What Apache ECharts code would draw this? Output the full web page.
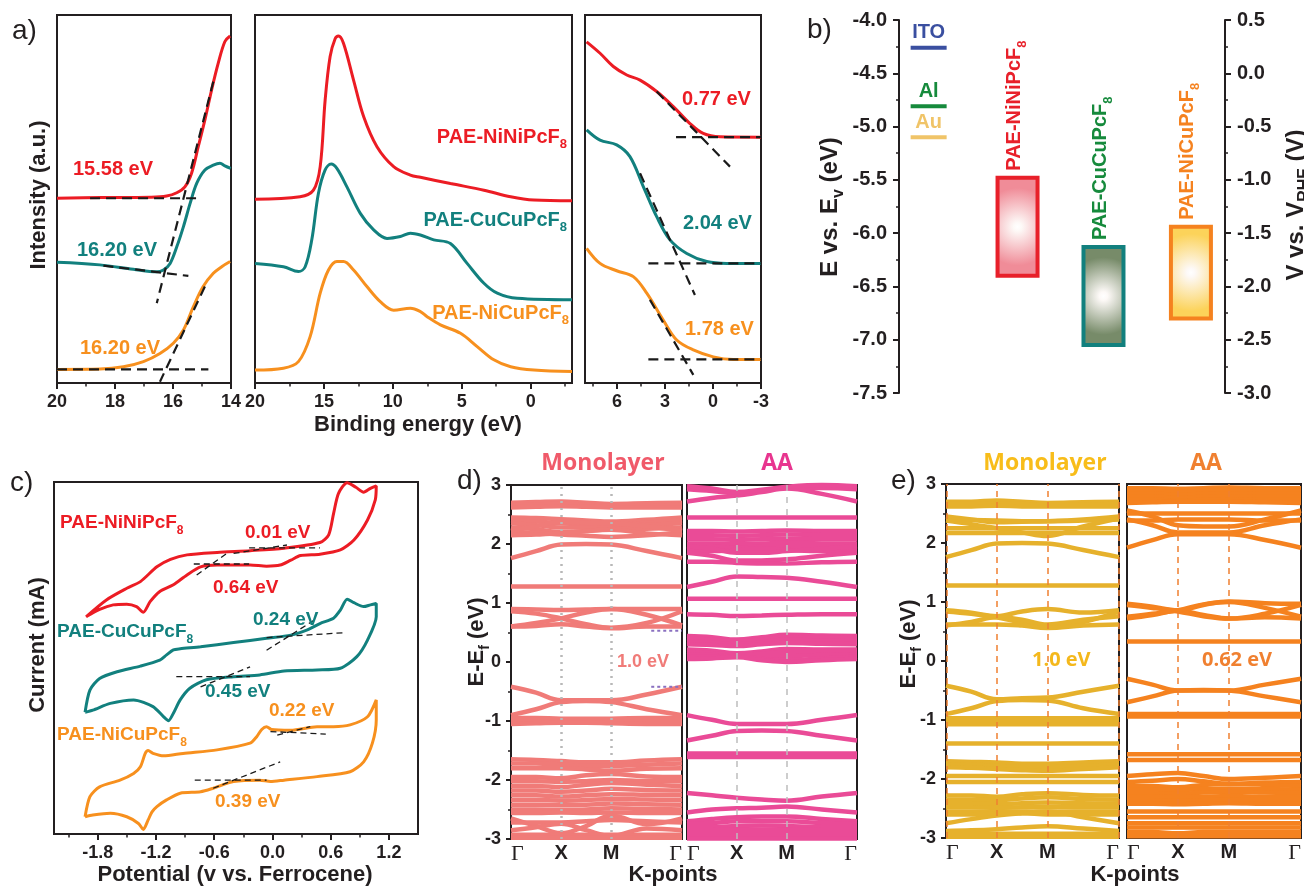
<!DOCTYPE html>
<html><head><meta charset="utf-8">
<script src="https://cdn.jsdelivr.net/npm/echarts@6/dist/echarts.min.js"></script>
<style>html,body{margin:0;padding:0;background:#fff;}#chart{width:1304px;height:889px;}</style>
</head><body><div id="chart"></div>
<script>
const FONT = "'Liberation Sans', Arial, sans-serif";
const OPEN = "'Open Sans', 'Liberation Sans', sans-serif";
const SERIF = "'Liberation Serif', 'DejaVu Serif', serif";
const INK = '#231f20';
const RED = '#ec1c24', TEAL = '#12807e', ORANGE = '#f7901e';

// ---------- Panel a : UPS spectra (binding energy eV, intensity a.u.) ----------
const a1Red = [[20,50.2],[18.5,50.4],[16.8,50.5],[16.22,50.8],[15.87,51.7],[15.59,53.3],[15.36,57.0],[15.13,64.2],[14.9,71.5],[14.67,79.6],[14.44,86.9],[14.21,92.8],[14.03,94.3]];
const a1Teal = [[20,32.8],[18.52,32.1],[17.37,30.9],[16.56,30.2],[16.33,30.7],[16.10,32.5],[15.87,37.0],[15.64,42.5],[15.41,48.8],[15.18,54.3],[14.9,57.9],[14.61,59.2],[14.38,59.7],[14.21,59.0],[14.01,58.3]];
const a1Orange = [[20,3.7],[18.52,3.8],[17.71,4.4],[17.02,5.8],[16.45,8.0],[15.99,10.8],[15.64,14.4],[15.3,20.7],[14.96,26.2],[14.61,29.8],[14.32,31.6],[14.03,33.0]];
const a1Fits = [
  [[18.86,50.2],[15.09,50.2]],
  [[14.61,81.9],[16.56,21.7]],
  [[18.40,31.9],[15.47,29.1]],
  [[20,3.7],[14.78,3.7]],
  [[14.90,26.2],[16.45,0.35]]
];
const a2Red = [[20,49.9],[16.73,50.6],[15.76,52.4],[15.27,58.8],[14.91,76.9],[14.55,88.7],[14.18,93.6],[13.94,94.3],[13.58,92.3],[12.85,82.3],[12.12,72.4],[11.15,64.2],[9.94,58.8],[8.73,56.5],[8.0,55.9],[5.82,54.2],[3.39,52.4],[1.45,50.6],[-0.24,49.7],[-3,49.5]];
const a2Teal = [[20,32.5],[17.94,31.6],[16.85,30.3],[16.36,31.6],[15.88,38.9],[15.40,51.5],[14.91,57.9],[14.47,59.5],[14.06,58.3],[13.33,53.3],[12.36,46.1],[11.39,41.6],[10.42,39.3],[9.45,39.8],[8.73,40.7],[8.0,40.2],[7.03,38.9],[5.82,37.9],[4.61,32.5],[3.39,27.1],[2.42,24.4],[0.97,23.0],[-3,22.6]];
const a2Orange = [[20,3.5],[17.94,4.0],[16.85,5.8],[16.0,12.6],[15.27,24.4],[14.67,30.7],[14.06,33.0],[13.58,33.0],[12.85,30.7],[11.88,26.2],[10.91,22.1],[9.94,19.8],[8.73,20.3],[8.0,19.4],[7.51,18.0],[6.55,15.8],[5.09,13.5],[3.88,9.9],[2.67,6.3],[1.45,4.4],[-0.24,3.5],[-3,3.1]];
const a3Red = [[7.9,92.7],[7.06,89.6],[6.23,86.0],[5.39,83.7],[4.56,82.3],[3.52,79.2],[2.48,75.1],[1.44,70.5],[0.61,67.8],[-0.44,66.9],[-3,66.8]];
const a3Teal = [[7.9,68.8],[7.06,66.0],[6.02,64.7],[5.19,61.5],[4.35,53.3],[3.52,45.2],[2.69,38.9],[1.64,35.2],[0.39,33.0],[-0.86,32.5],[-3,32.5]];
const a3Orange = [[7.9,36.6],[7.06,32.5],[6.02,30.5],[4.98,28.9],[4.14,24.4],[3.11,17.1],[2.27,11.7],[1.23,9.0],[-0.02,7.1],[-1.27,6.4],[-3,6.4]];
const a3Fits = [
  [[2.31,66.8],[-3,66.8]],
  [[3.52,79.2],[-1.06,58.8]],
  [[4.04,32.5],[-3,32.5]],
  [[4.56,57.0],[1.13,23.9]],
  [[4.04,6.4],[-3,6.4]],
  [[3.94,22.6],[1.23,2.2]]
];
const a1Ticks = [14,16,18,20], a1Minor = [15,17,19];
const a2Ticks = [0,5,10,15,20], a2Minor = [-2.5,2.5,7.5,12.5,17.5];
const a3Ticks = [-3,0,3,6], a3Minor = [-1.5,1.5,4.5,7.5];

// ---------- Panel b : energy levels ----------
const metalNames = ['ITO','Al','Au'];
const metalE = [-4.26,-4.81,-5.10];
const boxNames = ['PAE-NiNiPcF','PAE-CuCuPcF','PAE-NiCuPcF'];
const boxTop = [-5.48,-6.13,-5.94];
const boxBottom = [-6.40,-7.05,-6.80];

// ---------- Panel c : cyclic voltammetry (V vs Fc, current a.u.) ----------
const cvNiNi = [[-1.92,61.7],[-1.71,66.5],[-1.50,69.8],[-1.36,71.7],[-1.19,75.9],[-1.05,78.0],[-0.88,79.3],[-0.57,80.0],[-0.23,80.5],[0.12,81.2],[0.49,82.8],[0.58,85.0],[0.63,91.0],[0.68,96.7],[0.77,99.8],[0.86,98.5],[0.94,97.1],[1.01,98.2],[1.07,98.9],[1.06,94.9],[0.98,89.2],[0.84,83.5],[0.70,80.7],[0.49,79.5],[0.29,79.1],[0.19,77.8],[0.08,76.4],[-0.06,76.1],[-0.23,76.4],[-0.57,76.4],[-0.74,75.9],[-0.88,73.6],[-1.02,70.8],[-1.16,68.9],[-1.26,66.0],[-1.33,63.0],[-1.40,64.6],[-1.50,65.3],[-1.64,65.1],[-1.78,63.8],[-1.92,61.7]];
const cvCuCu = [[-1.93,34.6],[-1.88,40.9],[-1.78,44.2],[-1.60,46.1],[-1.36,47.7],[-1.16,49.4],[-1.09,50.9],[-1.02,52.3],[-0.95,52.6],[-0.74,53.2],[-0.40,54.4],[-0.06,55.6],[0.19,56.5],[0.36,58.0],[0.49,59.8],[0.63,61.3],[0.70,63.6],[0.77,66.7],[0.84,65.7],[0.94,64.6],[1.01,65.1],[1.07,65.5],[1.07,61.7],[0.98,55.1],[0.87,50.4],[0.70,47.1],[0.46,46.6],[0.12,46.3],[-0.13,45.2],[-0.40,44.7],[-0.68,43.8],[-0.85,41.4],[-0.95,38.1],[-1.02,34.3],[-1.07,32.2],[-1.12,33.3],[-1.23,36.2],[-1.43,38.1],[-1.67,37.1],[-1.85,35.2],[-1.93,34.6]];
const cvNiCu = [[-1.93,4.9],[-1.88,10.6],[-1.78,13.4],[-1.57,15.3],[-1.43,17.2],[-1.36,19.1],[-1.31,22.9],[-1.28,23.7],[-1.23,22.9],[-1.12,22.2],[-0.92,22.9],[-0.57,23.9],[-0.23,25.8],[-0.16,27.7],[-0.11,29.7],[-0.06,30.5],[-0.01,29.7],[0.19,29.5],[0.46,30.5],[0.63,30.5],[0.80,31.0],[0.98,33.3],[1.07,38.1],[1.07,32.4],[1.03,25.8],[0.94,20.5],[0.80,17.7],[0.46,16.3],[0.12,15.3],[-0.02,14.9],[-0.13,15.3],[-0.40,14.9],[-0.61,13.0],[-0.74,12.0],[-0.95,11.6],[-1.09,9.7],[-1.19,7.8],[-1.24,6.3],[-1.28,4.0],[-1.33,1.3],[-1.38,3.0],[-1.50,4.9],[-1.67,5.9],[-1.85,5.4],[-1.93,4.9]];
const cvFits = [
  [[-0.24,81.3],[0.49,81.3]], [[-0.40,79.7],[0.15,82.1]], [[-0.81,76.7],[-0.24,76.7]], [[-0.78,73.6],[-0.47,79.7]],
  [[-0.06,55.8],[0.75,57.2]], [[-0.06,52.2],[0.44,60.9]], [[-0.99,44.7],[-0.23,44.7]], [[-0.74,41.8],[-0.23,47.5]],
  [[-0.02,29.1],[0.55,28.4]], [[0.05,28.1],[0.39,30.5]], [[-0.80,15.3],[-0.06,15.3]], [[-0.61,13.0],[0.08,20.5]]
];
const cTicks = [-1.8,-1.2,-0.6,0,0.6,1.2], cMinor = [-2.1,-1.5,-0.9,-0.3,0.3,0.9];

// ---------- Panels d, e : band structures (E - Ef, eV) ----------
const kPath = [0, 0.25, 0.5, 0.75, 1.0, 1.3536, 1.7071];
const kTickPos = [0, 0.5, 1.0, 1.7071];
const kLabels = ['Γ','X','M','Γ'];
const dMonoBands = [
[2.70,2.71,2.72,2.70,2.68,2.69,2.70],[2.66,2.67,2.68,2.66,2.64,2.65,2.66],[2.62,2.63,2.64,2.63,2.62,2.62,2.62],
[2.45,2.44,2.42,2.40,2.38,2.41,2.45],[2.40,2.38,2.35,2.33,2.32,2.36,2.40],[2.35,2.32,2.28,2.28,2.30,2.32,2.35],
[2.28,2.25,2.20,2.22,2.25,2.26,2.28],[2.20,2.19,2.16,2.14,2.12,2.15,2.20],[2.15,2.16,2.18,2.22,2.24,2.18,2.15],
[2.22,2.30,2.38,2.36,2.35,2.30,2.22],[1.76,1.88,1.99,2.00,1.99,1.88,1.76],[1.28,1.28,1.28,1.28,1.28,1.28,1.28],
[0.90,0.89,0.88,0.89,0.90,0.90,0.90],[0.86,0.82,0.74,0.64,0.58,0.66,0.86],[0.60,0.66,0.74,0.84,0.90,0.80,0.62],
[0.60,0.61,0.64,0.60,0.57,0.60,0.60],[-0.42,-0.52,-0.65,-0.65,-0.65,-0.55,-0.42],[-0.90,-0.80,-0.68,-0.66,-0.68,-0.80,-0.90],
[-0.95,-0.95,-0.96,-0.96,-0.96,-0.95,-0.95],[-1.00,-1.00,-1.00,-1.00,-1.00,-1.00,-1.00],[-1.05,-1.04,-1.03,-1.03,-1.04,-1.05,-1.05],
[-1.65,-1.66,-1.68,-1.70,-1.70,-1.67,-1.65],[-1.72,-1.72,-1.74,-1.76,-1.76,-1.74,-1.72],[-1.80,-1.80,-1.80,-1.82,-1.84,-1.81,-1.80],
[-1.95,-1.95,-1.97,-1.92,-1.90,-1.94,-1.95],[-2.02,-2.02,-2.03,-2.02,-2.00,-2.02,-2.02],[-2.10,-2.10,-2.12,-2.08,-2.05,-2.08,-2.10],
[-2.18,-2.18,-2.20,-2.18,-2.15,-2.17,-2.18],[-2.26,-2.26,-2.28,-2.26,-2.24,-2.25,-2.26],[-2.34,-2.34,-2.35,-2.34,-2.32,-2.33,-2.34],
[-2.42,-2.42,-2.43,-2.42,-2.40,-2.41,-2.42],[-2.50,-2.50,-2.51,-2.50,-2.48,-2.49,-2.50],[-2.56,-2.56,-2.55,-2.56,-2.55,-2.56,-2.56],
[-2.65,-2.78,-2.90,-2.78,-2.60,-2.75,-2.65],[-2.72,-2.72,-2.72,-2.70,-2.68,-2.70,-2.72],[-2.85,-2.80,-2.74,-2.85,-2.95,-2.82,-2.85],
[-2.93,-2.93,-2.93,-2.93,-2.93,-2.93,-2.93],[-2.98,-2.98,-2.98,-2.98,-2.98,-2.98,-2.98]
];
const dAABands = [
[2.93,2.90,2.86,2.90,2.95,2.95,2.93],[2.72,2.78,2.82,2.88,2.94,2.85,2.72],[2.98,2.94,2.88,2.92,2.97,3.00,2.98],
[2.45,2.45,2.45,2.45,2.45,2.45,2.45],[2.22,2.22,2.21,2.22,2.23,2.22,2.22],[2.15,2.15,2.14,2.15,2.16,2.15,2.15],
[2.08,2.08,2.07,2.08,2.09,2.08,2.08],[2.01,2.01,2.00,2.01,2.02,2.01,2.01],[1.95,1.95,1.94,1.95,1.95,1.95,1.95],
[1.88,1.88,1.90,1.92,1.90,1.88,1.88],[1.96,1.92,1.85,1.85,1.88,1.92,1.96],[1.85,1.80,1.72,1.72,1.74,1.80,1.85],
[1.70,1.70,1.68,1.67,1.67,1.69,1.70],[1.27,1.36,1.45,1.44,1.43,1.36,1.27],[1.07,1.07,1.07,1.07,1.07,1.07,1.07],
[0.81,0.80,0.78,0.79,0.80,0.81,0.81],[0.44,0.42,0.38,0.42,0.46,0.45,0.44],[0.40,0.38,0.35,0.38,0.42,0.41,0.40],
[0.35,0.33,0.30,0.33,0.38,0.36,0.35],[0.30,0.29,0.27,0.30,0.32,0.31,0.30],[0.21,0.19,0.15,0.18,0.22,0.21,0.21],
[0.17,0.15,0.12,0.14,0.17,0.17,0.17],[0.13,0.12,0.10,0.10,0.10,0.12,0.13],[0.09,0.09,0.10,0.05,0.03,0.06,0.09],
[0.05,0.06,0.08,0.03,0.00,0.03,0.05],[-0.90,-0.98,-1.05,-1.05,-1.05,-0.98,-0.90],[-1.33,-1.25,-1.17,-1.16,-1.17,-1.25,-1.33],
[-1.55,-1.55,-1.55,-1.55,-1.55,-1.55,-1.55],[-1.58,-1.58,-1.58,-1.58,-1.58,-1.58,-1.58],[-1.61,-1.61,-1.61,-1.61,-1.61,-1.61,-1.61],
[-2.22,-2.26,-2.30,-2.33,-2.35,-2.28,-2.22],[-2.55,-2.50,-2.48,-2.47,-2.45,-2.50,-2.55],[-2.70,-2.66,-2.63,-2.62,-2.62,-2.66,-2.70],
[-2.75,-2.73,-2.70,-2.70,-2.70,-2.73,-2.75],[-2.80,-2.80,-2.78,-2.77,-2.78,-2.80,-2.80],[-2.85,-2.85,-2.84,-2.84,-2.84,-2.85,-2.85],
[-2.90,-2.90,-2.90,-2.90,-2.90,-2.90,-2.90],[-2.95,-2.95,-2.95,-2.95,-2.95,-2.95,-2.95],[-2.99,-2.99,-2.99,-2.99,-2.99,-2.99,-2.99]
];
const eMonoBands = [
[2.70,2.70,2.72,2.70,2.68,2.69,2.70],[2.66,2.66,2.67,2.66,2.64,2.65,2.66],[2.62,2.62,2.63,2.62,2.62,2.62,2.62],
[2.45,2.40,2.35,2.36,2.37,2.40,2.45],[2.40,2.39,2.38,2.37,2.37,2.38,2.40],[2.25,2.25,2.25,2.25,2.25,2.25,2.25],
[2.17,2.17,2.17,2.17,2.17,2.17,2.17],[2.38,2.32,2.25,2.18,2.12,2.28,2.42],[1.76,1.88,1.99,2.00,1.99,1.88,1.76],
[1.28,1.28,1.28,1.28,1.28,1.28,1.28],[0.86,0.82,0.76,0.84,0.88,0.82,0.86],[0.84,0.80,0.74,0.65,0.58,0.66,0.84],
[0.60,0.66,0.74,0.70,0.62,0.70,0.76],[0.62,0.62,0.62,0.60,0.56,0.60,0.62],[-0.42,-0.52,-0.65,-0.63,-0.62,-0.52,-0.42],
[-0.90,-0.80,-0.68,-0.66,-0.67,-0.80,-0.90],[-0.97,-0.97,-0.97,-0.97,-0.97,-0.97,-0.97],[-1.02,-1.02,-1.02,-1.02,-1.02,-1.02,-1.02],
[-1.07,-1.07,-1.07,-1.07,-1.07,-1.07,-1.07],[-1.40,-1.40,-1.40,-1.40,-1.40,-1.40,-1.40],[-1.70,-1.71,-1.72,-1.74,-1.74,-1.72,-1.70],
[-1.75,-1.76,-1.78,-1.80,-1.80,-1.78,-1.75],[-1.80,-1.81,-1.83,-1.85,-1.86,-1.83,-1.80],[-1.95,-1.95,-1.95,-1.95,-1.95,-1.95,-1.95],
[-2.05,-2.05,-2.05,-2.05,-2.05,-2.05,-2.05],[-2.28,-2.28,-2.30,-2.26,-2.24,-2.27,-2.28],[-2.35,-2.35,-2.36,-2.33,-2.31,-2.34,-2.35],
[-2.42,-2.42,-2.43,-2.41,-2.40,-2.41,-2.42],[-2.48,-2.48,-2.49,-2.48,-2.47,-2.48,-2.48],[-2.55,-2.55,-2.55,-2.55,-2.55,-2.55,-2.55],
[-2.75,-2.68,-2.62,-2.58,-2.55,-2.65,-2.75],[-2.60,-2.60,-2.58,-2.58,-2.60,-2.60,-2.60],[-2.88,-2.87,-2.85,-2.82,-2.80,-2.84,-2.88],
[-2.93,-2.93,-2.93,-2.93,-2.93,-2.93,-2.93],[-2.98,-2.98,-2.98,-2.98,-2.98,-2.98,-2.98]
];
const eAABands = [
[2.93,2.93,2.92,2.93,2.94,2.93,2.93],[2.88,2.88,2.87,2.88,2.89,2.88,2.88],[2.83,2.83,2.82,2.83,2.84,2.83,2.83],
[2.78,2.78,2.77,2.78,2.79,2.78,2.78],[2.73,2.73,2.72,2.73,2.74,2.73,2.73],[2.68,2.69,2.70,2.70,2.70,2.69,2.68],
[2.55,2.45,2.30,2.28,2.28,2.40,2.55],[2.50,2.50,2.50,2.50,2.50,2.50,2.50],[2.38,2.38,2.40,2.40,2.40,2.38,2.38],
[2.40,2.30,2.18,2.18,2.18,2.30,2.40],[1.92,2.05,2.15,2.15,2.15,2.05,1.92],[0.97,0.92,0.86,0.95,1.01,0.98,0.97],
[0.72,0.78,0.85,0.78,0.72,0.74,0.72],[0.95,0.90,0.84,0.76,0.72,0.80,0.95],[0.75,0.80,0.86,0.96,1.00,0.90,0.75],
[0.33,0.33,0.33,0.33,0.33,0.33,0.33],[-0.30,-0.40,-0.50,-0.50,-0.50,-0.40,-0.30],[-0.70,-0.60,-0.50,-0.49,-0.50,-0.60,-0.70],
[-0.90,-0.90,-0.90,-0.90,-0.90,-0.90,-0.90],[-0.94,-0.94,-0.94,-0.94,-0.94,-0.94,-0.94],[-1.58,-1.58,-1.58,-1.58,-1.58,-1.58,-1.58],
[-1.68,-1.68,-1.68,-1.68,-1.68,-1.68,-1.68],[-1.95,-1.92,-1.90,-1.95,-2.00,-1.98,-1.95],[-2.05,-2.03,-2.00,-2.04,-2.08,-2.06,-2.05],
[-2.12,-2.12,-2.14,-2.10,-2.08,-2.10,-2.12],[-2.18,-2.18,-2.19,-2.17,-2.16,-2.17,-2.18],[-2.24,-2.24,-2.25,-2.23,-2.22,-2.23,-2.24],
[-2.30,-2.30,-2.31,-2.30,-2.29,-2.30,-2.30],[-2.36,-2.36,-2.37,-2.36,-2.35,-2.36,-2.36],[-2.42,-2.42,-2.43,-2.42,-2.41,-2.42,-2.42],
[-2.55,-2.55,-2.55,-2.55,-2.55,-2.55,-2.55],[-2.65,-2.65,-2.65,-2.65,-2.65,-2.65,-2.65],[-2.75,-2.75,-2.75,-2.75,-2.75,-2.75,-2.75],
[-2.82,-2.82,-2.82,-2.82,-2.82,-2.82,-2.82],[-2.90,-2.90,-2.92,-2.90,-2.90,-2.90,-2.90],[-2.97,-2.97,-2.97,-2.97,-2.97,-2.97,-2.97]
];
const dGapLevels = [0.53, -0.42];
const dGapSpan = [1.40, 1.7071];

// ================= layout / styling =================
const K_END = 1.7071;
const bSlot = [1.0, 4.0, 6.9, 9.85];
const metalColors = ['#3a4fa0','#168a3c','#f0c468'];
const boxFill = ['#f08c98','#778b69','#fcd35a'];
const boxStroke = ['#e8202a','#12807e','#f5821f'];
const boxText = ['#e8202a','#168a3c','#f5821f'];

const grid = [
  {left:57,top:15,width:174,height:368},
  {left:255,top:15,width:317,height:368},
  {left:585,top:15,width:176,height:368},
  {left:899,top:20,width:326,height:373},
  {left:54,top:482,width:364,height:352},
  {left:511,top:485,width:171,height:354},
  {left:687,top:485,width:170,height:354},
  {left:946,top:484,width:173,height:354},
  {left:1127,top:484,width:179,height:354}
].map(g => Object.assign({show:true, borderColor:INK, borderWidth:2, containLabel:false}, g));
grid[3].show = false;

const fmtInt = v => String(Math.round(v));
const fmt1 = v => (Math.abs(v) < 1e-9 ? 0 : v).toFixed(1);
function majorX(gi, min, max, inv, ticks, fmt) {
  return {type:'value', gridIndex:gi, min, max, inverse:inv, position:'bottom',
    axisLine:{show:false}, splitLine:{show:false},
    axisTick:{show:true, customValues:ticks, length:6, lineStyle:{color:INK, width:2}},
    axisLabel:{show:true, customValues:ticks, formatter:fmt, color:INK, fontSize:18, fontWeight:'bold', fontFamily:FONT, margin:10}};
}
function minorX(gi, min, max, inv, ticks) {
  return {type:'value', gridIndex:gi, min, max, inverse:inv, position:'bottom',
    axisLine:{show:false}, splitLine:{show:false}, axisLabel:{show:false},
    axisTick:{show:true, customValues:ticks, length:3.5, lineStyle:{color:INK, width:1.5}}};
}
function bandX(gi) {
  return {type:'value', gridIndex:gi, min:0, max:K_END, axisLine:{show:false}, splitLine:{show:false}, axisTick:{show:false},
    axisLabel:{show:true, customValues:kTickPos, alignMinLabel:'left', alignMaxLabel:'right', margin:4,
      formatter: v => { const i = kTickPos.findIndex(t => Math.abs(t - v) < 1e-3); const s = kLabels[i < 0 ? 0 : i]; return s === 'Γ' ? '{g|Γ}' : '{k|' + s + '}'; },
      rich:{g:{fontFamily:SERIF, fontSize:22, color:INK}, k:{fontFamily:FONT, fontSize:20, fontWeight:'bold', color:INK}}}};
}
function hiddenY(gi, min, max) {
  return {type:'value', gridIndex:gi, min, max, show:false, splitLine:{show:false}};
}
function bandY(gi, show) {
  return {type:'value', gridIndex:gi, min:-3, max:3, interval:1, axisLine:{show:false}, splitLine:{show:false},
    axisTick:{show:show, length:5, lineStyle:{color:INK, width:2}},
    minorTick:{show:show, splitNumber:2, length:3, lineStyle:{color:INK, width:1.5}},
    axisLabel:{show:show, color:INK, fontSize:18, fontWeight:'bold', fontFamily:FONT, margin:10}};
}
function bY(pos, min, max) {
  return {type:'value', gridIndex:3, position:pos, min, max, interval:0.5,
    axisLine:{show:true, lineStyle:{color:INK, width:2}}, splitLine:{show:false},
    axisTick:{show:true, length:6, lineStyle:{color:INK, width:2}},
    minorTick:{show:true, splitNumber:2, length:3, lineStyle:{color:INK, width:1.5}},
    axisLabel:{color:INK, fontSize:20, fontWeight:'bold', fontFamily:FONT, margin:12, formatter:fmt1}};
}

const xAxis = [
  majorX(0,14,20,true,a1Ticks,fmtInt), minorX(0,14,20,true,a1Minor),
  majorX(1,-3,20,true,a2Ticks,fmtInt), minorX(1,-3,20,true,a2Minor),
  majorX(2,-3,8,true,a3Ticks,fmtInt), minorX(2,-3,8,true,a3Minor),
  {type:'value', gridIndex:3, min:0, max:11, show:false},
  majorX(4,-2.25,1.5,false,cTicks,fmt1), minorX(4,-2.25,1.5,false,cMinor),
  bandX(5), bandX(6), bandX(7), bandX(8)
];
const yAxis = [
  hiddenY(0,0,100), hiddenY(1,0,100), hiddenY(2,0,100),
  bY('left',-7.5,-4.0), bY('right',-3.0,0.5),
  hiddenY(4,0,100),
  bandY(5,true), bandY(6,false), bandY(7,true), bandY(8,false)
];

function line(xi, yi, data, color, width, dash, smooth) {
  return {type:'line', xAxisIndex:xi, yAxisIndex:yi, data, symbol:'none', showSymbol:false,
    smooth: smooth || 0, clip:false, silent:true, animation:false, z: dash ? 4 : 3,
    lineStyle:{color, width, type: dash || 'solid'}};
}
const series = [];
const FITDASH = [10,6];
[[a1Red,RED],[a1Teal,TEAL],[a1Orange,ORANGE]].forEach(([d,c]) => series.push(line(0,0,d,c,3,null,0.35)));
a1Fits.forEach(d => series.push(line(0,0,d,'#1a1a1a',2.2,FITDASH)));
[[a2Red,RED],[a2Teal,TEAL],[a2Orange,ORANGE]].forEach(([d,c]) => series.push(line(2,1,d,c,3,null,0.35)));
[[a3Red,RED],[a3Teal,TEAL],[a3Orange,ORANGE]].forEach(([d,c]) => series.push(line(4,2,d,c,3,null,0.35)));
a3Fits.forEach(d => series.push(line(4,2,d,'#1a1a1a',2.2,FITDASH)));
[[cvNiNi,RED],[cvCuCu,TEAL],[cvNiCu,ORANGE]].forEach(([d,c]) => series.push(line(7,5,d,c,3,null,0.25)));
cvFits.forEach(d => series.push(line(7,5,d,'#1a1a1a',1.3,[6,4])));

// panel b: metals
series.push({type:'custom', xAxisIndex:6, yAxisIndex:3, clip:false, silent:true, animation:false,
  data: metalE.map(e => [bSlot[0], e]),
  renderItem: (p, api) => {
    const i = p.dataIndex;
    const pt = api.coord([api.value(0), api.value(1)]);
    return {type:'group', children:[
      {type:'line', shape:{x1:pt[0]-18, y1:pt[1], x2:pt[0]+18, y2:pt[1]}, style:{stroke:metalColors[i], lineWidth:4}},
      {type:'text', x:pt[0], y:pt[1]-15, style:{text:metalNames[i], fill:metalColors[i], fontSize:20, fontWeight:'bold', fontFamily:FONT, align:'center', verticalAlign:'middle'}}
    ]};
  }});
// panel b: boxes
series.push({type:'custom', xAxisIndex:6, yAxisIndex:3, clip:false, silent:true, animation:false,
  encode:{x:0, y:[1,2]},
  data: boxTop.map((t, i) => [bSlot[i+1], t, boxBottom[i]]),
  renderItem: (p, api) => {
    const i = p.dataIndex;
    const a = api.coord([api.value(0), api.value(1)]);
    const b = api.coord([api.value(0), api.value(2)]);
    const w = 40;
    return {type:'group', children:[
      {type:'rect', shape:{x:a[0]-w/2, y:a[1], width:w, height:b[1]-a[1]},
        style:{fill:new echarts.graphic.RadialGradient(0.5,0.5,1.6,[{offset:0,color:'#ffffff'},{offset:0.06,color:'#fdf9f7'},{offset:0.55,color:boxFill[i]},{offset:1,color:boxFill[i]}]), stroke:boxStroke[i], lineWidth:4}},
      {type:'text', x:a[0]-3, y:a[1]-7, rotation:Math.PI/2,
        style:{text:'{n|' + boxNames[i] + '}{s|8}', fill:boxText[i], align:'left', verticalAlign:'middle',
          rich:{n:{fill:boxText[i], fontSize:20, fontWeight:'bold', fontFamily:FONT, lineHeight:28},
                s:{fill:boxText[i], fontSize:13, fontWeight:'bold', fontFamily:FONT, lineHeight:14, verticalAlign:'bottom'}}}}
    ]};
  }});

// band panels
function bands(list, xi, yi, color, mark) {
  list.forEach((b, j) => {
    const s = line(xi, yi, b.map((e, k) => [kPath[k], e]), color, 4.5, null, 0.4);
    s.z = 3;
    if (j === 0 && mark) s.markLine = Object.assign({silent:true, symbol:['none','none'], label:{show:false}, animation:false}, mark);
    series.push(s);
  });
}
bands(dMonoBands, 9, 6, '#f07b78', {lineStyle:{color:'#b8b8b8', type:[2,5], width:2.5}, data:[{xAxis:0.5},{xAxis:1.0}]});
bands(dAABands, 10, 7, '#ea4b97', {lineStyle:{color:'#bdbdbd', type:[6,6], width:1.5}, data:[{xAxis:0.5},{xAxis:1.0}]});
bands(eMonoBands, 11, 8, '#e6b12c', {lineStyle:{color:'#f08030', type:[6,5], width:1.5}, data:[{xAxis:0.005},{xAxis:0.5},{xAxis:1.0},{xAxis:K_END-0.005}]});
bands(eAABands, 12, 9, '#f5821f', {lineStyle:{color:'#f08030', type:[6,5], width:1.5}, data:[{xAxis:0.5},{xAxis:1.0}]});
dGapLevels.forEach(e => series.push(line(9, 6, dGapSpan.map(k => [k, e]), '#8a70c0', 2, [3,3])));

// ---------- text ----------
function T(x, y, text, color, size, o) {
  o = o || {};
  return {type:'text', x, y, rotation:o.rot || 0, z:100,
    style:{text, fill:color, fontSize:size, fontWeight:o.weight || 'bold', fontFamily:o.family || FONT,
      align:o.align || 'left', verticalAlign:'middle'}};
}
function TS(x, y, parts, color, size, o) {
  o = o || {};
  const text = parts.map(p => (p[1] ? '{s|' : '{n|') + p[0] + '}').join('');
  return {type:'text', x, y, rotation:o.rot || 0, z:100,
    style:{text, fill:color, align:o.align || 'left', verticalAlign:'middle',
      rich:{n:{fill:color, fontSize:size, fontWeight:'bold', fontFamily:FONT, lineHeight:Math.round(size*1.4)},
            s:{fill:color, fontSize:Math.round(size*0.65), fontWeight:'bold', fontFamily:FONT, lineHeight:Math.round(size*0.7), verticalAlign:'bottom'}}}};
}
const R90 = Math.PI/2;
const graphic = [
  T(12,31,'a)',INK,28,{weight:'normal'}), T(807,30,'b)',INK,28,{weight:'normal'}),
  T(10,483,'c)',INK,28,{weight:'normal'}), T(457,481,'d)',INK,28,{weight:'normal'}), T(891,481,'e)',INK,28,{weight:'normal'}),
  T(73,169,'15.58 eV',RED,20), T(77,250,'16.20 eV',TEAL,20), T(80,348,'16.20 eV',ORANGE,20),
  TS(567,137,[['PAE-NiNiPcF'],['8',1]],RED,20,{align:'right'}),
  TS(567,220,[['PAE-CuCuPcF'],['8',1]],TEAL,20,{align:'right'}),
  TS(569,313,[['PAE-NiCuPcF'],['8',1]],ORANGE,20,{align:'right'}),
  T(682,99,'0.77 eV',RED,20), T(683,223,'2.04 eV',TEAL,20), T(685,329,'1.78 eV',ORANGE,20),
  T(39,195,'Intensity (a.u.)',INK,22,{rot:R90, align:'center'}),
  T(418,425,'Binding energy (eV)',INK,22,{align:'center'}),
  TS(830,207,[['E vs. E'],['v',1],[' (eV)']],INK,24,{rot:R90, align:'center'}),
  TS(1296,205,[['V vs. V'],['RHE',1],[' (V)']],INK,24,{rot:R90, align:'center'}),
  TS(60,523,[['PAE-NiNiPcF'],['8',1]],RED,19), T(245,533,'0.01 eV',RED,19), T(213,588,'0.64 eV',RED,19),
  TS(57,632,[['PAE-CuCuPcF'],['8',1]],TEAL,19), T(253,620,'0.24 eV',TEAL,19), T(205,692,'0.45 eV',TEAL,19),
  TS(57,735,[['PAE-NiCuPcF'],['8',1]],ORANGE,19), T(269,711,'0.22 eV',ORANGE,19), T(215,802,'0.39 eV',ORANGE,19),
  T(38,645,'Current (mA)',INK,22,{rot:R90, align:'center'}),
  T(235,875,'Potential (v vs. Ferrocene)',INK,22,{align:'center'}),
  T(603,463,'Monolayer','#f05a6a',23,{family:OPEN, align:'center'}),
  T(777,463,'AA','#e8358f',23,{family:OPEN, align:'center'}),
  T(617,662,'1.0 eV','#f07b78',18),
  TS(477,642,[['E-E'],['f',1],[' (eV)']],INK,22,{rot:R90, align:'center'}),
  T(673,875,'K-points',INK,22,{align:'center'}),
  T(1045,463,'Monolayer','#f8bd1a',23,{family:OPEN, align:'center'}),
  T(1206,463,'AA','#f08030',23,{family:OPEN, align:'center'}),
  T(1032,660,'1.0 eV','#f4b81c',20,{family:OPEN}),
  T(1202,660,'0.62 eV','#f08030',20,{family:OPEN}),
  TS(909,644,[['E-E'],['f',1],[' (eV)']],INK,22,{rot:R90, align:'center'}),
  T(1135,875,'K-points',INK,22,{align:'center'})
];

const chart = echarts.init(document.getElementById('chart'), null, {renderer:'canvas'});
chart.setOption({
  animation:false,
  backgroundColor:'#ffffff',
  textStyle:{fontFamily:FONT},
  grid, xAxis, yAxis, series, graphic
});
</script></body></html>
